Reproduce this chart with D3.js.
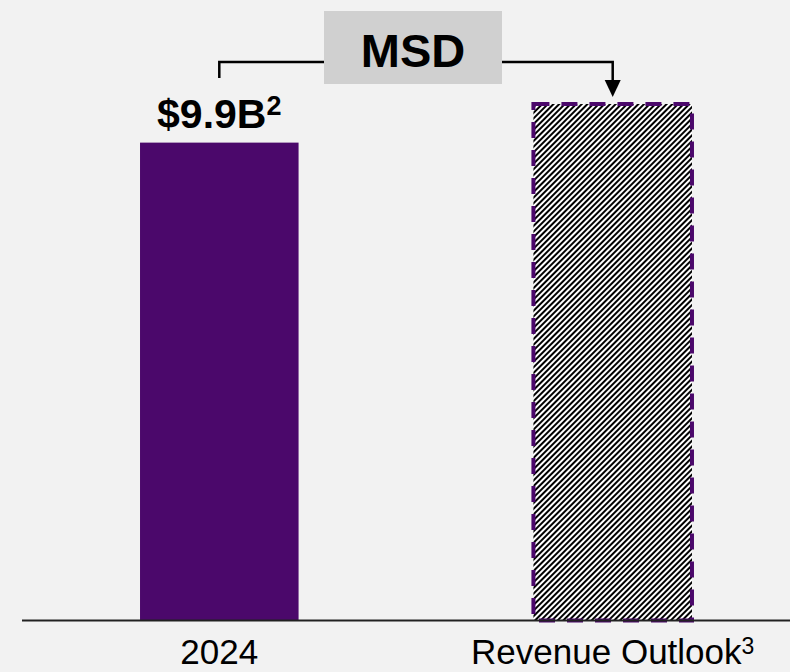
<!DOCTYPE html>
<html>
<head>
<meta charset="utf-8">
<script src="https://cdn.jsdelivr.net/npm/d3@7"></script>
<style>
  html, body { margin: 0; padding: 0; background: #f2f2f2; }
  svg { display: block; }
  text { font-family: "Liberation Sans", Arial, sans-serif; }
</style>
</head>
<body>
<script>
// ---- data ----
const categories = ["2024", "Revenue Outlook"];
const categorySup = ["", "3"];
const values = [9.9, 10.7];          // outlook value
const valueLabels = ["$9.9B", ""];
const valueLabelSup = ["2", ""];
const growthLabel = "MSD";

// ---- layout ----
const W = 790, H = 672;
const baseY = 620.5;
const purple = "#4b086b";

const svg = d3.select("body").append("svg")
  .attr("width", W).attr("height", H);

svg.append("rect").attr("width", W).attr("height", H).attr("fill", "#f2f2f2");

const defs = svg.append("defs");
const pat = defs.append("pattern")
  .attr("id", "hatch")
  .attr("patternUnits", "userSpaceOnUse")
  .attr("width", 4).attr("height", 4)
  .attr("patternTransform", "rotate(45)");
pat.append("rect").attr("width", 4).attr("height", 4).attr("fill", "#ffffff");
pat.append("line").attr("x1", 1).attr("y1", -1).attr("x2", 1).attr("y2", 5)
  .attr("stroke", "#000").attr("stroke-width", 1.5)
  .attr("shape-rendering", "crispEdges");

const x = d3.scaleBand()
  .domain(categories)
  .range([22, 810])
  .paddingInner(0.597)
  .paddingOuter(0.3);

const y = d3.scaleLinear()
  .domain([0, values[1]])
  .range([baseY, 104]);

const data = categories.map((c, i) => ({ c, v: values[i], i }));

// bars
svg.selectAll("rect.bar")
  .data(data)
  .join("rect")
  .attr("class", "bar")
  .attr("x", d => x(d.c))
  .attr("y", d => y(d.v))
  .attr("width", x.bandwidth())
  .attr("height", d => baseY - y(d.v))
  .attr("fill", d => d.i === 0 ? purple : "url(#hatch)")
  .attr("stroke", d => d.i === 0 ? "none" : purple)
  .attr("stroke-width", 4)
  .attr("stroke-dasharray", d => d.i === 0 ? null : "16,12");

// baseline axis
const axis = d3.axisBottom(x).tickSize(0).tickFormat("");
const axG = svg.append("g").attr("transform", `translate(0,${baseY})`).call(axis);
axG.select(".domain").remove();
svg.append("line")
  .attr("x1", 22).attr("x2", W)
  .attr("y1", baseY).attr("y2", baseY)
  .attr("stroke", "#222").attr("stroke-width", 2);

// category labels
const catText = svg.selectAll("text.cat")
  .data(data)
  .join("text")
  .attr("class", "cat")
  .attr("x", d => x(d.c) + x.bandwidth() / 2)
  .attr("y", 664)
  .attr("text-anchor", "middle")
  .attr("font-size", 35)
  .attr("fill", "#000");
catText.append("tspan").text(d => d.c);
catText.filter(d => categorySup[d.i])
  .append("tspan")
  .attr("font-size", 23)
  .attr("dy", -10)
  .text(d => categorySup[d.i]);

// value label
const valText = svg.selectAll("text.val")
  .data(data.filter(d => valueLabels[d.i]))
  .join("text")
  .attr("class", "val")
  .attr("x", d => x(d.c) + x.bandwidth() / 2)
  .attr("y", 128)
  .attr("text-anchor", "middle")
  .attr("font-size", 41)
  .attr("font-weight", "bold")
  .attr("fill", "#000");
valText.append("tspan").text(d => valueLabels[d.i]);
valText.append("tspan")
  .attr("font-size", 27)
  .attr("dy", -13)
  .text(d => valueLabelSup[d.i]);

// bracket connector with arrow
const cx0 = x(categories[0]) + x.bandwidth() / 2;
const cx1 = x(categories[1]) + x.bandwidth() / 2;
const bracketY = 62;
const boxX0 = 324, boxX1 = 502, boxY0 = 11, boxY1 = 84;

svg.append("path")
  .attr("d", `M${cx0},78 V${bracketY} H${boxX0}`)
  .attr("fill", "none").attr("stroke", "#000").attr("stroke-width", 2.5);
svg.append("path")
  .attr("d", `M${boxX1},${bracketY} H${cx1} V82`)
  .attr("fill", "none").attr("stroke", "#000").attr("stroke-width", 2.5);
svg.append("path")
  .attr("d", `M${cx1 - 8},80 L${cx1 + 8},80 L${cx1},97 Z`)
  .attr("fill", "#000");

svg.append("rect")
  .attr("x", boxX0).attr("y", boxY0)
  .attr("width", boxX1 - boxX0).attr("height", boxY1 - boxY0)
  .attr("fill", "#d0d0d0");
svg.append("text")
  .attr("x", (boxX0 + boxX1) / 2)
  .attr("y", 67)
  .attr("text-anchor", "middle")
  .attr("font-size", 47)
  .attr("font-weight", "bold")
  .attr("fill", "#000")
  .text(growthLabel);
</script>
</body>
</html>
